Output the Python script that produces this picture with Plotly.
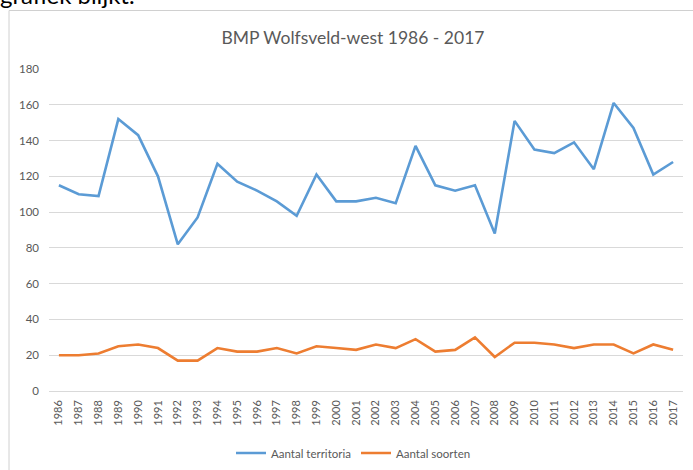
import plotly.graph_objects as go

years = [str(y) for y in range(1986, 2018)]
territoria = [115, 110, 109, 152, 143, 120, 82, 97, 127, 117, 112, 106, 98, 121, 106, 106,
              108, 105, 137, 115, 112, 115, 88, 151, 135, 133, 139, 124, 161, 147, 121, 128]
soorten = [20, 20, 21, 25, 26, 24, 17, 17, 24, 22, 22, 24, 21, 25, 24, 23,
           26, 24, 29, 22, 23, 30, 19, 27, 27, 26, 24, 26, 26, 21, 26, 23]
yticks = [0, 20, 40, 60, 80, 100, 120, 140, 160, 180]

W, H = 693, 470
L, R, T, B = 49, 10, 69, 79
pw, ph = W - L - R, H - T - B

def px(x):
    return (x - L) / pw

def py(y):
    return (H - B - y) / ph

FONT = "Lato"
GRAY = "#595959"

fig = go.Figure()
fig.add_trace(go.Scatter(x=years, y=territoria, mode="lines", name="Aantal territoria",
                         line=dict(color="#5b9bd5", width=2.6)))
fig.add_trace(go.Scatter(x=years, y=soorten, mode="lines", name="Aantal soorten",
                         line=dict(color="#ed7d31", width=2.6)))

fig.update_layout(
    width=W, height=H,
    margin=dict(l=L, r=R, t=T, b=B, autoexpand=False),
    paper_bgcolor="white", plot_bgcolor="white",
    font=dict(family=FONT, color=GRAY, size=11),
    title=dict(text="BMP Wolfsveld-west 1986 - 2017", xref="container", x=353 / W,
               xanchor="center", yref="container", y=1 - 38 / H, yanchor="middle",
               font=dict(family=FONT, size=17.5, color=GRAY)),
    showlegend=True,
    legend=dict(orientation="h", x=px(356), xanchor="center", y=py(453), yanchor="middle",
                font=dict(family=FONT, size=11.5, color=GRAY), itemwidth=30,
                entrywidth=80, bgcolor="rgba(0,0,0,0)"),
    xaxis=dict(type="category", range=[-0.5, 31.5], showgrid=False, tickangle=-90,
               ticks="", showline=False, automargin=False, ticklabelstandoff=6,
               tickfont=dict(size=11, color=GRAY)),
    yaxis=dict(range=[0, 180], tickvals=yticks, showgrid=True, gridcolor="#d9d9d9",
               gridwidth=1, zeroline=True, zerolinecolor="#d9d9d9", zerolinewidth=1,
               ticks="", showline=False, automargin=False, ticklabelstandoff=9,
               tickfont=dict(size=11.5, color=GRAY)),
    shapes=[dict(type="rect", xref="paper", yref="paper",
                 x0=px(9), x1=px(700), y0=py(480), y1=py(10.5),
                 line=dict(color="#d0d0d0", width=1), fillcolor="rgba(0,0,0,0)", layer="below")],
    annotations=[dict(text="grafiek blijkt.", xref="paper", yref="paper",
                      x=px(-2), xanchor="left", y=py(11), yanchor="bottom",
                      showarrow=False, font=dict(family=FONT, size=24, color="black"))],
)

fig.write_html("out.html", config={"displayModeBar": False},
               post_script="document.body.style.margin='0';document.body.style.overflow='hidden';")
